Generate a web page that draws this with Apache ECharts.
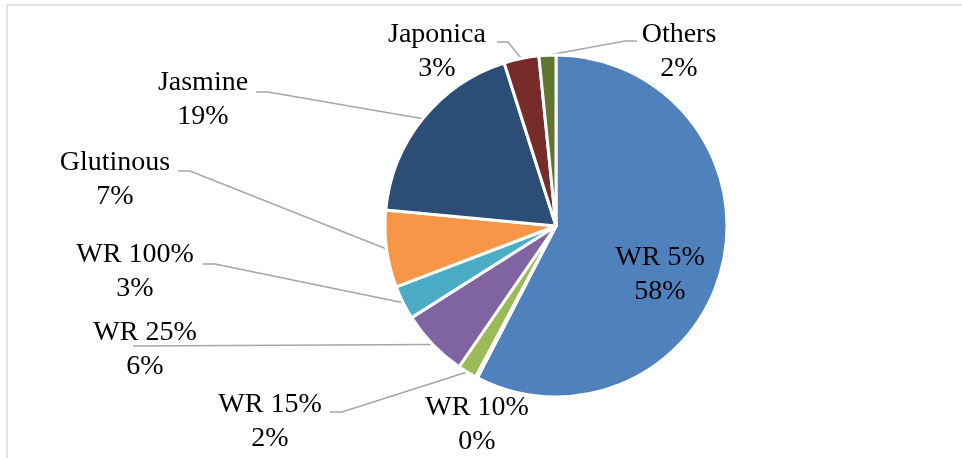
<!DOCTYPE html>
<html>
<head>
<meta charset="utf-8">
<script src="https://cdn.jsdelivr.net/npm/echarts@6/dist/echarts.min.js"></script>
<style>html,body{margin:0;padding:0;background:#fff}#c{width:962px;height:458px}</style>
</head>
<body>
<div id="c"></div>
<script>
const categories = ['WR 5%', 'WR 10%', 'WR 15%', 'WR 25%', 'WR 100%', 'Glutinous', 'Jasmine', 'Japonica', 'Others'];
const shares = [57.6, 0.2, 1.8, 6.4, 3.2, 7.3, 18.6, 3.3, 1.6];
const colors = ['#4F81BD', '#C0504D', '#9BBB59', '#8064A2', '#4BACC6', '#F79646', '#2C4D75', '#772C2A', '#5F7530'];

// label block centres and leader elbows (layout only)
const labelPos = [
  {x: 660, y: 275, inside: true},
  {x: 477, y: 425, noLine: true},
  {x: 270, y: 422, elbow: [342, 412], end: [330, 412]},
  {x: 145, y: 350, elbow: null, end: [133, 346]},
  {x: 135, y: 272, elbow: [215, 264], end: [203, 264]},
  {x: 115, y: 180, elbow: [190, 171], end: [178, 171]},
  {x: 203, y: 100, elbow: [268, 92], end: [256, 92]},
  {x: 437, y: 52, elbow: [508, 42], end: [497, 42]},
  {x: 679, y: 52, elbow: [625, 41], end: [637, 41]}
];

const chart = echarts.init(document.getElementById('c'), null, {renderer: 'canvas'});
const cx = 556, cy = 226, R = 171;
chart.setOption({
  backgroundColor: '#fff',
  animation: false,
  graphic: [{
    type: 'rect', shape: {x: 7, y: 5, width: 1000, height: 500},
    style: {fill: 'none', stroke: '#D9D9D9', lineWidth: 1.5}, silent: true
  }],
  series: [{
    type: 'pie',
    center: [cx, cy],
    radius: [0, R],
    startAngle: 90,
    clockwise: true,
    avoidLabelOverlap: false,
    itemStyle: {borderColor: '#fff', borderWidth: 3},
    label: {
      show: true,
      position: 'outside',
      fontFamily: 'Liberation Serif',
      fontSize: 28,
      lineHeight: 34,
      color: '#000',
      align: 'center',
      formatter: p => p.name + '\n' + Math.round(p.percent) + '%'
    },
    labelLine: {show: true, lineStyle: {color: '#A6A6A6', width: 1.5}, length: 10, length2: 10},
    labelLayout: function (params) {
      const lp = labelPos[params.dataIndex];
      const res = {x: lp.x, y: lp.y, align: 'center', verticalAlign: 'middle'};
      if (lp.inside || lp.noLine) {
        res.labelLinePoints = [[lp.x, lp.y], [lp.x, lp.y], [lp.x, lp.y]];
      } else {
        const start = params.labelLinePoints ? params.labelLinePoints[0] : [cx, cy];
        const mid = lp.elbow ? lp.elbow : [(start[0] + lp.end[0]) / 2, (start[1] + lp.end[1]) / 2];
        res.labelLinePoints = [start, mid, lp.end];
      }
      return res;
    },
    data: categories.map((n, i) => ({
      name: n, value: shares[i], itemStyle: {color: colors[i]},
      labelLine: {show: !(labelPos[i].inside || labelPos[i].noLine)}
    }))
  }]
});
</script>
</body>
</html>
